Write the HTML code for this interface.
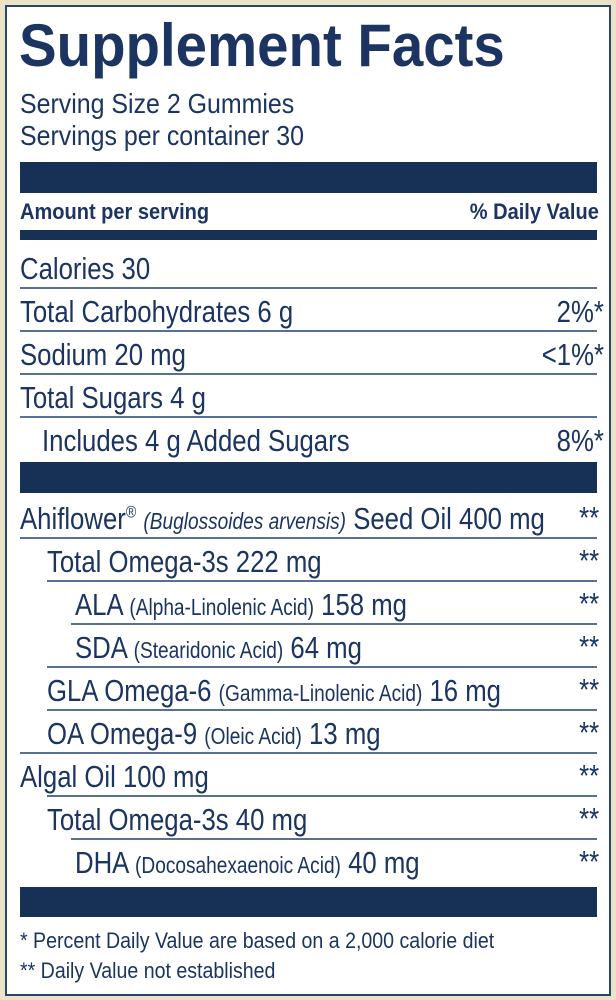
<!DOCTYPE html>
<html><head><meta charset="utf-8"><style>
body{margin:0;width:616px;height:1000px;background:#ece2c6;position:relative;overflow:hidden;font-family:"Liberation Sans",sans-serif;color:#1b3461}
.box{position:absolute;left:5px;top:5px;width:602px;height:987px;background:#fff;border:2px solid #2a4370}
.t{position:absolute;white-space:nowrap;transform-origin:left top;line-height:1}
.r{position:absolute;white-space:nowrap;transform-origin:right top;line-height:1;text-align:right}
.bar{position:absolute;left:20px;width:577px;background:#173056}
.ln{position:absolute;height:1.5px;background:#5a6f94;right:19px}
.row{font-size:31px;transform:scaleX(.83)}
.sm{font-size:23px}
</style></head><body>
<div class="box"></div>
<div class="t" style="left:19px;top:16px;font-size:60px;font-weight:bold;transform:scaleX(.94)">Supplement Facts</div>
<div class="t" style="left:20px;top:90px;font-size:28px;transform:scaleX(.89)">Serving Size 2 Gummies</div>
<div class="t" style="left:20px;top:122px;font-size:28px;transform:scaleX(.89)">Servings per container 30</div>
<div class="bar" style="top:162px;height:31px"></div>
<div class="t" style="left:20px;top:201px;font-size:22px;font-weight:bold;transform:scaleX(.91)">Amount per serving</div>
<div class="r" style="right:17px;top:201px;font-size:22px;font-weight:bold;transform:scaleX(.91)">% Daily Value</div>
<div class="bar" style="top:230px;height:10px"></div>

<div class="t row" style="left:20px;top:253px">Calories 30</div>
<div class="ln" style="left:20px;top:287px"></div>
<div class="t row" style="left:20px;top:296px">Total Carbohydrates 6 g</div>
<div class="r row" style="right:12px;top:296px">2%*</div>
<div class="ln" style="left:20px;top:330px"></div>
<div class="t row" style="left:20px;top:339px">Sodium 20 mg</div>
<div class="r row" style="right:12px;top:339px">&lt;1%*</div>
<div class="ln" style="left:20px;top:373px"></div>
<div class="t row" style="left:20px;top:382px">Total Sugars 4 g</div>
<div class="ln" style="left:20px;top:416px"></div>
<div class="t row" style="left:42px;top:425px">Includes 4 g Added Sugars</div>
<div class="r row" style="right:12px;top:425px">8%*</div>
<div class="bar" style="top:462px;height:31px"></div>

<div class="t row" style="left:20px;top:503px">Ahiflower<sup style="font-size:17px">®</sup> <i class="sm">(Buglossoides arvensis)</i> Seed Oil 400 mg</div>
<div class="r row" style="right:17px;top:502px">**</div>
<div class="ln" style="left:20px;top:537px"></div>
<div class="t row" style="left:47px;top:546px">Total Omega-3s 222 mg</div>
<div class="r row" style="right:17px;top:545px">**</div>
<div class="ln" style="left:47px;top:580px"></div>
<div class="t row" style="left:75px;top:589px">ALA <span class="sm">(Alpha-Linolenic Acid)</span> 158 mg</div>
<div class="r row" style="right:17px;top:588px">**</div>
<div class="ln" style="left:71px;top:623px"></div>
<div class="t row" style="left:75px;top:632px">SDA <span class="sm">(Stearidonic Acid)</span> 64 mg</div>
<div class="r row" style="right:17px;top:631px">**</div>
<div class="ln" style="left:47px;top:666px"></div>
<div class="t row" style="left:47px;top:675px">GLA Omega-6 <span class="sm">(Gamma-Linolenic Acid)</span> 16 mg</div>
<div class="r row" style="right:17px;top:674px">**</div>
<div class="ln" style="left:47px;top:709px"></div>
<div class="t row" style="left:47px;top:718px">OA Omega-9 <span class="sm">(Oleic Acid)</span> 13 mg</div>
<div class="r row" style="right:17px;top:717px">**</div>
<div class="ln" style="left:20px;top:752px"></div>
<div class="t row" style="left:20px;top:761px">Algal Oil 100 mg</div>
<div class="r row" style="right:17px;top:760px">**</div>
<div class="ln" style="left:47px;top:795px"></div>
<div class="t row" style="left:47px;top:804px">Total Omega-3s 40 mg</div>
<div class="r row" style="right:17px;top:803px">**</div>
<div class="ln" style="left:71px;top:838px"></div>
<div class="t row" style="left:75px;top:847px">DHA <span class="sm">(Docosahexaenoic Acid)</span> 40 mg</div>
<div class="r row" style="right:17px;top:846px">**</div>
<div class="bar" style="top:887px;height:30px"></div>

<div class="t" style="left:20px;top:930px;font-size:22px;transform:scaleX(.89)">* Percent Daily Value are based on a 2,000 calorie diet</div>
<div class="t" style="left:20px;top:960px;font-size:22px;transform:scaleX(.89)">** Daily Value not established</div>
</body></html>
